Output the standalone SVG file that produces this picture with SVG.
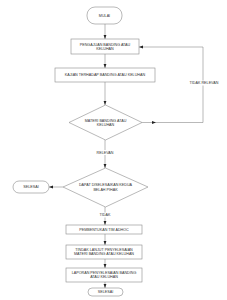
<svg xmlns="http://www.w3.org/2000/svg" width="227" height="300" viewBox="0 0 227 300">
<style>
.s{fill:#fff;stroke:#8a8a8a;stroke-width:0.6}
.c{fill:none;stroke:#8a8a8a;stroke-width:0.6}
.t{font-family:"Liberation Sans",Arial,sans-serif;font-size:3.7px;fill:#333;text-anchor:middle;dominant-baseline:central}
</style>
<defs>
<marker id="a" viewBox="0 0 4 4" refX="4" refY="2" markerWidth="4" markerHeight="4" markerUnits="userSpaceOnUse" orient="auto">
<path d="M0,0.6 L4,2 L0,3.4 Z" fill="#222"/>
</marker>
</defs>
<rect width="227" height="300" fill="#fff"/>
<g id="connectors">
<line class="c" x1="105" y1="24" x2="105" y2="39" marker-end="url(#a)"/>
<line class="c" x1="105" y1="54" x2="105" y2="68" marker-end="url(#a)"/>
<line class="c" x1="105" y1="82" x2="105" y2="105" marker-end="url(#a)"/>
<line class="c" x1="142" y1="122.5" x2="156" y2="122.5" marker-end="url(#a)"/>
<polyline class="c" points="155,122.5 203,122.5 203,47 139,47" marker-end="url(#a)"/>
<line class="c" x1="105" y1="140" x2="105" y2="168" marker-end="url(#a)"/>
<line class="c" x1="63" y1="187" x2="49" y2="187" marker-end="url(#a)"/>
<line class="c" x1="105" y1="207" x2="105" y2="225" marker-end="url(#a)"/>
<line class="c" x1="105" y1="234" x2="105" y2="245" marker-end="url(#a)"/>
<line class="c" x1="105" y1="259" x2="105" y2="268" marker-end="url(#a)"/>
<line class="c" x1="105" y1="282" x2="105" y2="288" marker-end="url(#a)"/>
<rect x="187" y="80.5" width="32" height="5" fill="#fff"/>
<text class="t" x="204" y="83">TIDAK RELEVAN</text>
<rect x="94" y="150" width="22" height="5" fill="#fff"/>
<text class="t" x="105" y="152.5">RELEVAN</text>
<rect x="98" y="212.5" width="14" height="5" fill="#fff"/>
<text class="t" x="105" y="215">TIDAK</text>
</g>
<g id="mulai">
<rect class="s" x="87" y="7" width="35" height="17" rx="8"/>
<text class="t" x="104.5" y="15.5">MULAI</text>
</g>
<g id="pengajuan">
<rect class="s" x="71" y="39" width="68" height="15"/>
<text class="t" x="105" y="44.5">PENGAJUAN BANDING ATAU</text>
<text class="t" x="105" y="49">KELUHAN</text>
</g>
<g id="kajian">
<rect class="s" x="55" y="68" width="100" height="14"/>
<text class="t" x="105" y="75">KAJIAN TERHADAP BANDING ATAU KELUHAN</text>
</g>
<g id="materi">
<polygon class="s" points="105.5,105 142,122.5 105.5,140 69,122.5"/>
<text class="t" x="105.5" y="120.5">MATERI BANDING ATAU</text>
<text class="t" x="105.5" y="125">KELUHAN</text>
</g>
<g id="dapat">
<polygon class="s" points="105.5,168 148,187 105.5,207 63,187"/>
<text class="t" x="105.5" y="185">DAPAT DISELESAIKAN KEDUA</text>
<text class="t" x="105.5" y="189.5">BELAH PIHAK</text>
</g>
<g id="selesai1">
<rect class="s" x="13" y="181" width="36" height="12" rx="6"/>
<text class="t" x="31" y="187">SELESAI</text>
</g>
<g id="adhoc">
<rect class="s" x="66" y="225" width="76" height="9"/>
<text class="t" x="104" y="229.5">PEMBENTUKAN TIM ADHOC</text>
</g>
<g id="tindak">
<rect class="s" x="66" y="245" width="76" height="14"/>
<text class="t" x="104" y="249.8">TINDAK LANJUT PENYELESAIAN</text>
<text class="t" x="104" y="254.3">MATERI BANDING ATAU KELUHAN</text>
</g>
<g id="laporan">
<rect class="s" x="66" y="268" width="76" height="14"/>
<text class="t" x="104" y="272.8">LAPORAN PENYELESAIAN BANDING</text>
<text class="t" x="104" y="277.3">ATAU KELUHAN</text>
</g>
<g id="selesai2">
<rect class="s" x="88" y="288" width="35" height="8" rx="4"/>
<text class="t" x="105.5" y="292">SELESAI</text>
</g>
</svg>
